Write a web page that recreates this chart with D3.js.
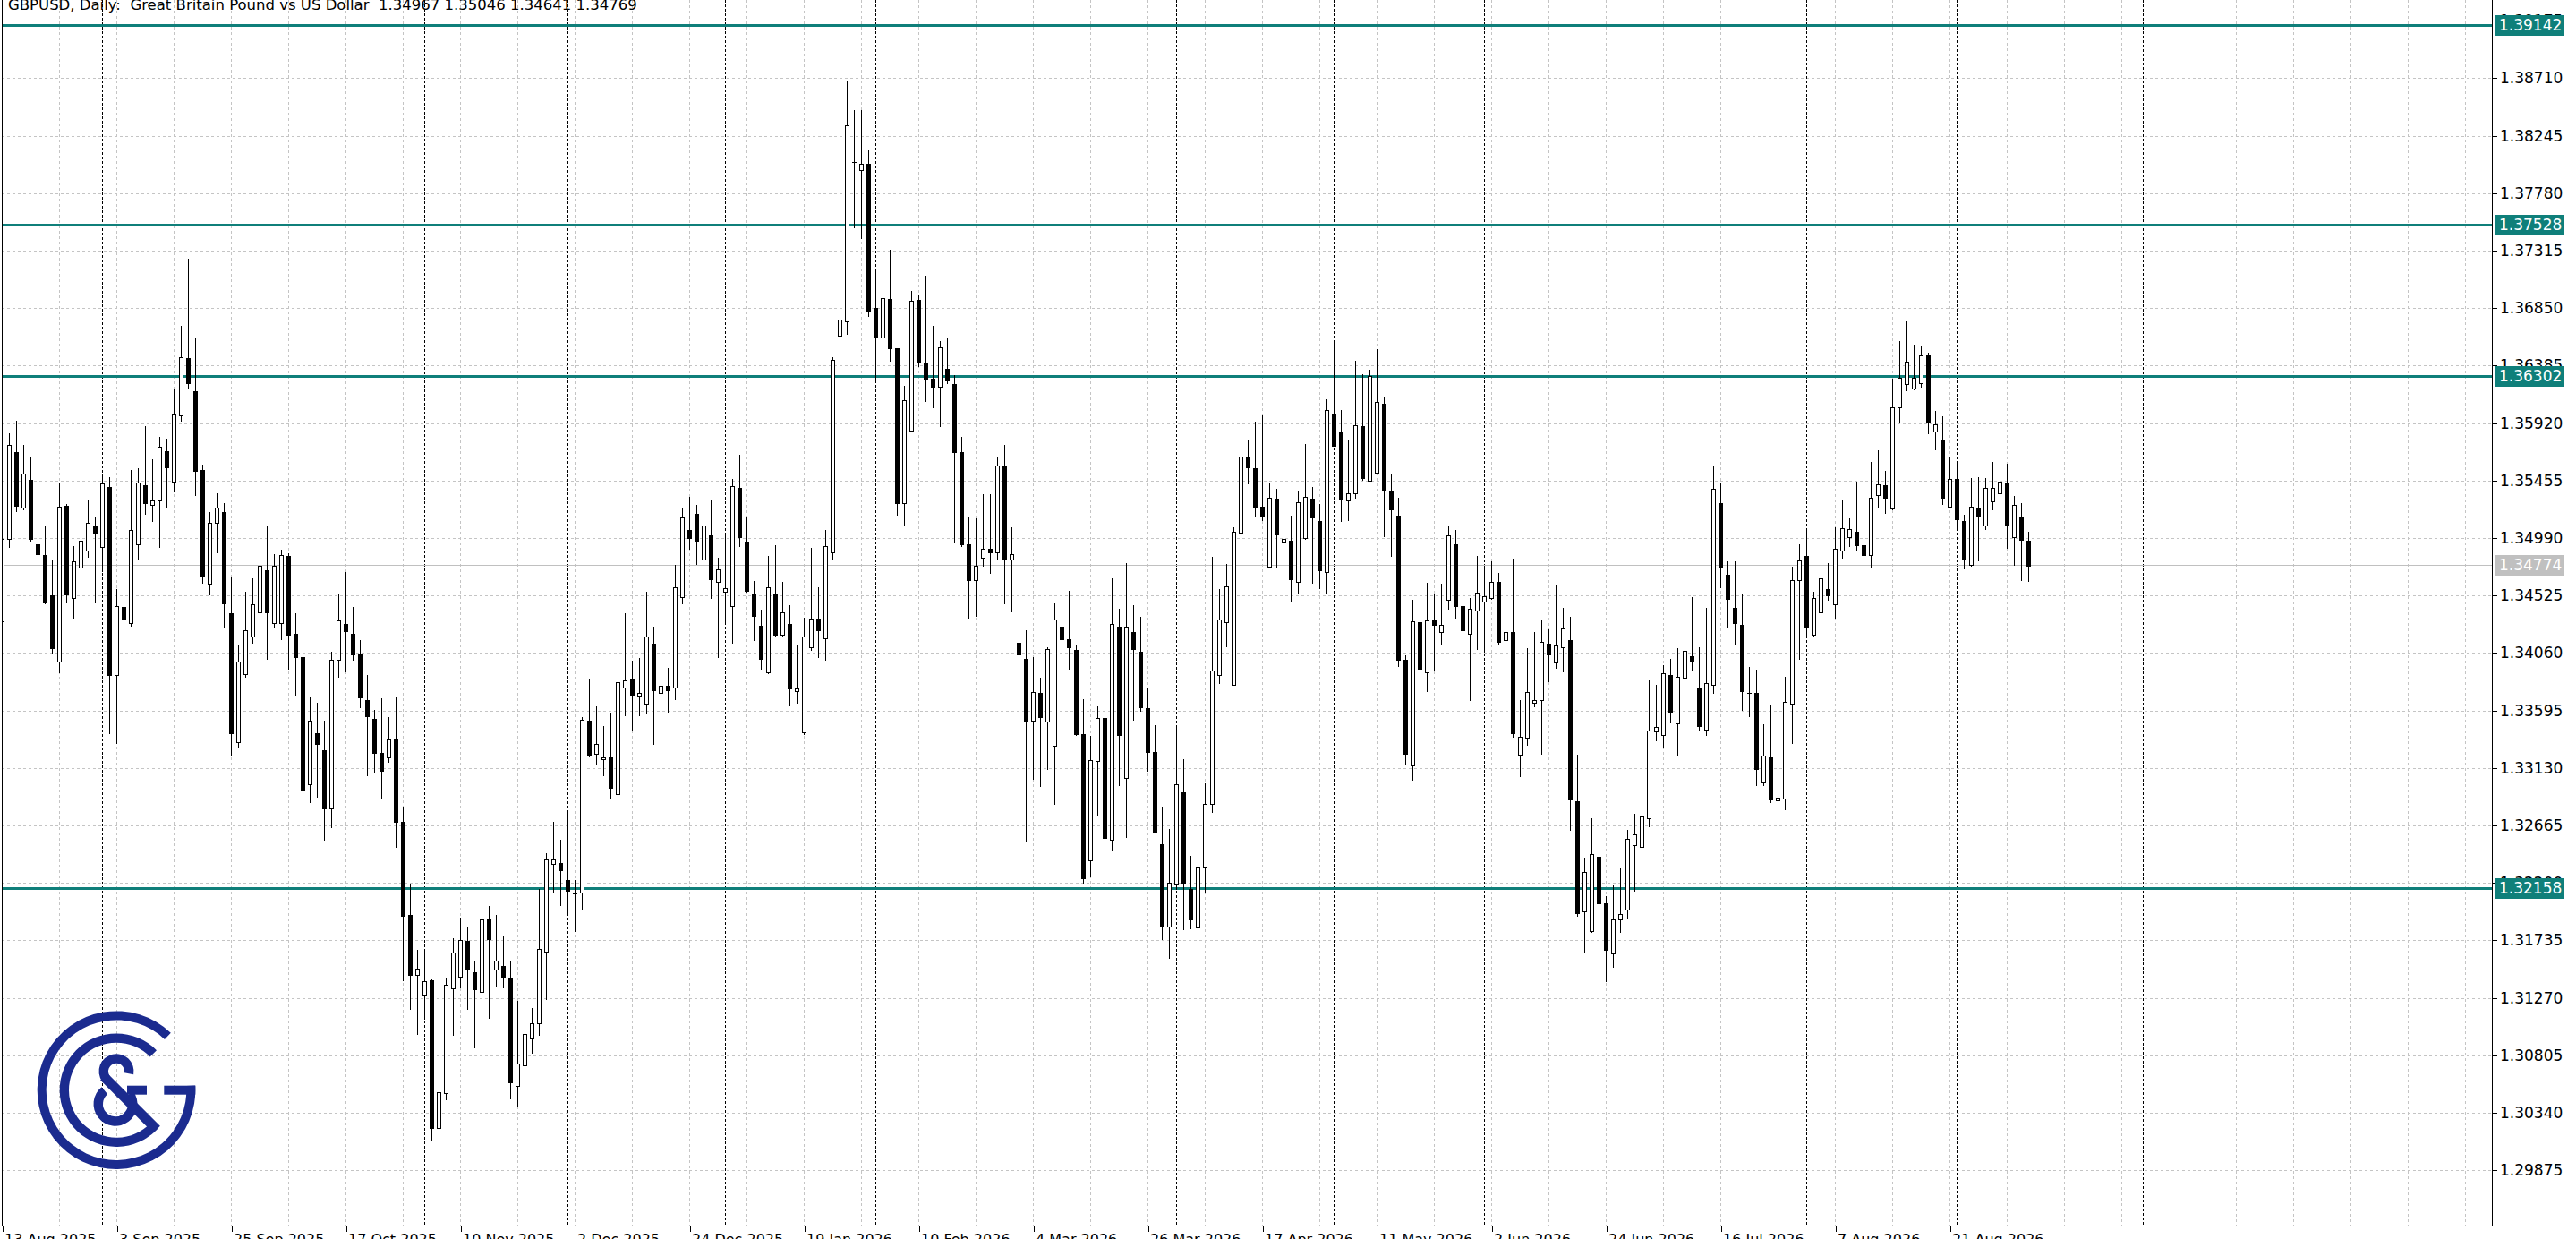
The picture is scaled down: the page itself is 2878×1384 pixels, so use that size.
<!DOCTYPE html>
<html><head><meta charset="utf-8">
<script src="https://cdn.jsdelivr.net/npm/d3@7"></script>
<style>html,body{margin:0;padding:0;background:#fff;overflow:hidden} text{white-space:pre}</style>
</head><body>
<svg id="c" width="2878" height="1384"></svg>
<script>
const titleText = "GBPUSD, Daily:  Great Britain Pound vs US Dollar  1.34967 1.35046 1.34641 1.34769";
const dateLabels = ["13 Aug 2025","3 Sep 2025","25 Sep 2025","17 Oct 2025","10 Nov 2025","2 Dec 2025","24 Dec 2025","19 Jan 2026","10 Feb 2026","4 Mar 2026","26 Mar 2026","17 Apr 2026","11 May 2026","2 Jun 2026","24 Jun 2026","16 Jul 2026","7 Aug 2026","21 Aug 2026"];
const labelEvery = 16;
const priceTicks = [1.29875,1.30340,1.30805,1.31270,1.31735,1.32200,1.32665,1.33130,1.33595,1.34060,1.34525,1.34990,1.35455,1.35920,1.36385,1.36850,1.37315,1.37780,1.38245,1.38710,1.39175];
const levelLines = [1.39142,1.37528,1.36302,1.32158];
const bidPrice = 1.34774;
const monthSeparators = [14,36,59,79,101,122,142,164,186,207,229,252,273,299];
const gridEvery = 8;
const gridMaxBar = 344;

const open = [
1.34313,1.34985,1.35683,1.35235,1.35459,1.34937,1.34853,1.34524,1.33992,1.35248,
1.34503,1.34748,1.34887,1.35090,1.34919,1.35401,1.33879,1.34432,1.34300,1.34937,
1.35414,1.35256,1.35293,1.35690,1.35446,1.35980,1.36446,1.36175,1.35538,1.34621,
1.35116,1.35201,1.34384,1.33339,1.33887,1.34190,1.34392,1.34729,1.34300,1.34305,
1.34848,1.34216,1.34024,1.33000,1.33410,1.33273,1.32800,1.34005,1.34295,1.34216,
1.34051,1.33676,1.33530,1.33249,1.33213,1.33358,1.32691,1.31943,1.31455,1.31287,
1.31415,1.30215,1.30496,1.31345,1.31444,1.31728,1.31480,1.31316,1.31907,1.31498,
1.31528,1.31426,1.30558,1.30725,1.30944,1.31061,1.31644,1.32356,1.32363,1.32221,
1.32119,1.32119,1.33515,1.33242,1.33202,1.33213,1.32921,1.33778,1.33844,1.33705,
1.33650,1.34135,1.33734,1.33792,1.33778,1.34510,1.35057,1.35189,1.34815,1.35012,
1.34634,1.34555,1.34441,1.35397,1.34964,1.34544,1.34278,1.33903,1.34537,1.34208,
1.34295,1.33751,1.33418,1.34104,1.34337,1.34181,1.34874,1.36626,1.36744,1.38030,
1.37967,1.38019,1.36848,1.36609,1.36921,1.36523,1.35272,1.35861,1.36917,1.36408,
1.36277,1.36211,1.36356,1.36235,1.35688,1.34936,1.34648,1.34832,1.34901,1.34874,
1.35577,1.34815,1.34139,1.34013,1.33515,1.33734,1.33505,1.33308,1.34275,1.34170,
1.34082,1.33406,1.32383,1.33187,1.33531,1.32547,1.34275,1.33046,1.34230,1.34072,
1.33613,1.33259,1.32514,1.31848,1.32186,1.32934,1.32154,1.31842,1.32327,1.32842,
1.33885,1.34308,1.33800,1.35033,1.35646,1.35558,1.35246,1.34761,1.35312,1.34958,
1.34967,1.34636,1.34990,1.35312,1.35131,1.34712,1.35997,1.35850,1.35295,1.35351,
1.35892,1.35456,1.35522,1.36073,1.35372,1.35172,1.34005,1.33149,1.34310,1.33903,
1.34327,1.34227,1.34493,1.34937,1.34438,1.34216,1.34402,1.34477,1.34504,1.34632,
1.34161,1.34227,1.33238,1.33376,1.33659,1.33676,1.34133,1.33980,1.34105,1.34166,
1.32863,1.31968,1.31810,1.32414,1.32032,1.31630,1.31907,1.31985,1.32503,1.32489,
1.32725,1.33423,1.33398,1.33881,1.33493,1.33861,1.34033,1.33778,1.33440,1.33800,
1.35269,1.34693,1.34424,1.34291,1.33737,1.33737,1.33016,1.33215,1.32869,1.32881,
1.33652,1.34649,1.34845,1.34207,1.34389,1.34577,1.34451,1.34890,1.34998,1.35038,
1.34931,1.34850,1.35335,1.35415,1.35228,1.36045,1.36233,1.36198,1.36246,1.36466,
1.35850,1.35788,1.35247,1.35466,1.35126,1.34770,1.35228,1.35091,1.35287,1.35354,
1.35434,1.34998,1.35161,1.34967];
const high = [
1.35024,1.35846,1.35946,1.35748,1.35648,1.35309,1.35090,1.34827,1.35440,1.35274,
1.34932,1.35019,1.35309,1.35169,1.35509,1.35490,1.34585,1.34595,1.35551,1.35564,
1.35906,1.35635,1.35819,1.35801,1.36196,1.36715,1.37257,1.36609,1.35590,1.35209,
1.35361,1.35282,1.34677,1.34129,1.34564,1.34674,1.35296,1.35098,1.34866,1.34906,
1.34872,1.34387,1.34195,1.33708,1.33663,1.33523,1.34076,1.34545,1.34722,1.34437,
1.34172,1.33887,1.33603,1.33698,1.33548,1.33705,1.32819,1.32199,1.31663,1.31655,
1.31426,1.30561,1.31433,1.31761,1.31929,1.31856,1.31571,1.32173,1.32020,1.31947,
1.31783,1.31571,1.31251,1.31116,1.31196,1.32155,1.32447,1.32702,1.32556,1.32782,
1.32228,1.33552,1.33862,1.33632,1.33475,1.33577,1.33895,1.34391,1.34008,1.34026,
1.34562,1.34281,1.34471,1.33949,1.34781,1.35237,1.35334,1.35265,1.35161,1.35307,
1.34839,1.35029,1.35473,1.35670,1.35161,1.34648,1.34416,1.34849,1.34936,1.34641,
1.34451,1.34129,1.34354,1.34919,1.34596,1.35064,1.36460,1.37129,1.38695,1.38463,
1.38463,1.38140,1.37160,1.37066,1.37326,1.36530,1.36225,1.36997,1.36963,1.37118,
1.36713,1.36588,1.36609,1.36315,1.35819,1.35161,1.35154,1.35352,1.35352,1.35656,
1.35750,1.35085,1.34555,1.34252,1.34033,1.33869,1.34111,1.34466,1.34826,1.34571,
1.34131,1.33695,1.33393,1.33639,1.33744,1.34672,1.34426,1.34794,1.34456,1.34361,
1.33783,1.33482,1.32826,1.32645,1.33465,1.33210,1.32426,1.32688,1.33016,1.34843,
1.34587,1.34787,1.35082,1.35892,1.35784,1.35942,1.35991,1.35440,1.35394,1.35351,
1.35177,1.35374,1.35761,1.35410,1.35276,1.36122,1.36597,1.36030,1.35784,1.36433,
1.36325,1.36361,1.36525,1.36138,1.35510,1.35322,1.34047,1.34499,1.34374,1.34632,
1.34549,1.34629,1.35095,1.35059,1.34590,1.34513,1.34851,1.34762,1.34812,1.34715,
1.34624,1.34831,1.33687,1.34105,1.34235,1.34338,1.34258,1.34610,1.34430,1.34360,
1.33246,1.32412,1.32733,1.32550,1.32101,1.32190,1.32323,1.32633,1.32766,1.32947,
1.33847,1.33811,1.33972,1.34019,1.34105,1.34310,1.34521,1.34116,1.34435,1.35574,
1.35449,1.34809,1.34809,1.34549,1.33953,1.33931,1.33493,1.33640,1.33118,1.33875,
1.34764,1.34946,1.35078,1.34564,1.34858,1.34791,1.35086,1.35300,1.35158,1.35453,
1.35126,1.35614,1.35710,1.35541,1.36286,1.36592,1.36747,1.36560,1.36546,1.36498,
1.36024,1.35983,1.35649,1.35595,1.35185,1.35482,1.35488,1.35482,1.35614,1.35675,
1.35595,1.35340,1.35279,1.35046];
const low = [
1.34287,1.34914,1.35209,1.35222,1.34970,1.34774,1.34458,1.34058,1.33905,1.34466,
1.34348,1.34169,1.34840,1.34466,1.34721,1.33410,1.33331,1.34169,1.34282,1.34827,
1.35182,1.35130,1.34914,1.35240,1.35367,1.35941,1.36196,1.35340,1.34629,1.34532,
1.34872,1.34269,1.33239,1.33294,1.33866,1.34142,1.34340,1.34011,1.34269,1.34169,
1.33932,1.33713,1.32800,1.32850,1.32900,1.32550,1.32650,1.33866,1.33913,1.34003,
1.33621,1.33067,1.33096,1.32884,1.33176,1.32491,1.31415,1.31178,1.30981,1.31097,
1.30124,1.30124,1.30452,1.30970,1.31353,1.31178,1.30868,1.31024,1.31105,1.31371,
1.31353,1.30459,1.30397,1.30404,1.30824,1.30970,1.31261,1.32119,1.32020,1.31965,
1.31808,1.31991,1.33220,1.33165,1.33067,1.32892,1.32903,1.33559,1.33439,1.33559,
1.33570,1.33321,1.33424,1.33585,1.33687,1.34458,1.34901,1.34780,1.34704,1.34503,
1.34028,1.34319,1.34146,1.34926,1.34555,1.34163,1.33931,1.33897,1.34198,1.34191,
1.33637,1.33654,1.33401,1.34087,1.34025,1.34007,1.34825,1.36432,1.36640,1.37500,
1.37420,1.36789,1.36270,1.36495,1.36426,1.35178,1.35092,1.35854,1.36381,1.36096,
1.36044,1.35895,1.36245,1.34953,1.34926,1.34347,1.34357,1.34763,1.34704,1.34815,
1.34458,1.34399,1.33055,1.32537,1.33039,1.32983,1.33121,1.32836,1.34131,1.33934,
1.33393,1.32193,1.32252,1.32744,1.32531,1.32465,1.32990,1.32570,1.33521,1.33590,
1.33105,1.32606,1.31743,1.31596,1.32154,1.31825,1.31832,1.31766,1.32121,1.32777,
1.33816,1.34111,1.33800,1.34915,1.35433,1.35164,1.35138,1.34754,1.34751,1.34925,
1.34482,1.34538,1.34984,1.34630,1.34587,1.34548,1.35738,1.35128,1.35138,1.35318,
1.35459,1.35450,1.35515,1.35007,1.34845,1.33953,1.33160,1.33035,1.33786,1.33750,
1.33917,1.34138,1.34421,1.34346,1.34166,1.33681,1.34089,1.34069,1.34499,1.34130,
1.34097,1.33382,1.33066,1.33315,1.33631,1.33246,1.33834,1.33939,1.33908,1.32628,
1.31935,1.31644,1.31805,1.31830,1.31408,1.31519,1.31802,1.31921,1.32135,1.32184,
1.32656,1.33354,1.33293,1.33495,1.33229,1.33798,1.33922,1.33432,1.33398,1.33737,
1.34590,1.34263,1.34125,1.33598,1.33551,1.32994,1.32994,1.32850,1.32739,1.32795,
1.33331,1.34009,1.34188,1.34202,1.34384,1.34488,1.34344,1.34831,1.34925,1.34885,
1.34746,1.34756,1.35247,1.35193,1.35225,1.35930,1.36184,1.36190,1.36217,1.35836,
1.35710,1.35265,1.35241,1.35059,1.34746,1.34764,1.34810,1.35059,1.35220,1.35300,
1.34912,1.34770,1.34649,1.34641];
const close = [
1.34985,1.35740,1.35253,1.35509,1.34985,1.34858,1.34466,1.34098,1.35240,1.34537,
1.34800,1.34966,1.35116,1.35024,1.35430,1.33884,1.34437,1.34332,1.35056,1.35438,
1.35272,1.35293,1.35727,1.35564,1.35988,1.36454,1.36241,1.35535,1.34687,1.35116,
1.35235,1.34458,1.33410,1.33989,1.34245,1.34453,1.34766,1.34392,1.34766,1.34853,
1.34208,1.34024,1.32950,1.33510,1.33321,1.32800,1.34005,1.34321,1.34234,1.34045,
1.33698,1.33548,1.33249,1.33110,1.33358,1.32691,1.31936,1.31455,1.31509,1.31407,
1.30215,1.30507,1.31378,1.31637,1.31735,1.31506,1.31342,1.31907,1.31746,1.31571,
1.31444,1.30587,1.30740,1.30977,1.31061,1.31663,1.32392,1.32392,1.32301,1.32137,
1.32111,1.33523,1.33238,1.33322,1.33216,1.32968,1.33825,1.33840,1.33723,1.33734,
1.34190,1.33760,1.33796,1.33760,1.34595,1.35154,1.34988,1.34971,1.35092,1.34659,
1.34735,1.34582,1.35411,1.34995,1.34562,1.34357,1.34011,1.34589,1.34208,1.34388,
1.33775,1.33775,1.34191,1.34337,1.34243,1.34925,1.36432,1.36755,1.38331,1.38030,
1.38019,1.36831,1.36616,1.36928,1.36523,1.35272,1.36103,1.36911,1.36415,1.36277,
1.36211,1.36536,1.36263,1.35688,1.34936,1.34648,1.34763,1.34901,1.34874,1.35577,
1.34815,1.34860,1.34046,1.33508,1.33744,1.33541,1.34095,1.34328,1.34170,1.34105,
1.33406,1.32235,1.33193,1.33537,1.32563,1.34295,1.33400,1.34275,1.34089,1.33619,
1.33262,1.32606,1.31848,1.32203,1.32996,1.32203,1.31901,1.32327,1.32842,1.33915,
1.34328,1.34597,1.35040,1.35646,1.35564,1.35246,1.35164,1.35318,1.35017,1.34984,
1.34656,1.35279,1.35325,1.35154,1.34728,1.36023,1.35738,1.35302,1.35351,1.35902,
1.35473,1.36302,1.36089,1.35384,1.35219,1.34008,1.33243,1.34313,1.33936,1.34327,
1.34285,1.34285,1.35012,1.34443,1.34244,1.34421,1.34546,1.34518,1.34637,1.34152,
1.34227,1.33410,1.33385,1.33742,1.33676,1.34152,1.34047,1.34119,1.34255,1.32877,
1.31954,1.32290,1.32434,1.32032,1.31658,1.31907,1.31949,1.32559,1.32595,1.32739,
1.33432,1.33465,1.33895,1.33584,1.33870,1.34077,1.33994,1.33468,1.33820,1.35386,
1.34757,1.34499,1.34305,1.33750,1.33737,1.33121,1.33232,1.32872,1.32886,1.33666,
1.34649,1.34810,1.34263,1.34502,1.34663,1.34523,1.34906,1.35067,1.35059,1.34931,
1.34850,1.35314,1.35426,1.35319,1.36050,1.36286,1.36420,1.36286,1.36466,1.35922,
1.35908,1.35319,1.35466,1.35145,1.34823,1.35241,1.35161,1.35394,1.35394,1.35448,
1.35094,1.35260,1.34979,1.34769];

// ---------- layout ----------
const plot = {left: 2, right: 2784, top: 0, bottom: 1369};
const FONT = "'DejaVu Sans', Verdana, sans-serif";
const teal = "#0f7f7a";
const gridColor = "#c4c4c4";

const svg = d3.select("#c");
svg.append("rect").attr("width", 2878).attr("height", 1384).attr("fill", "#fff");

const x = d3.scaleLinear().domain([0, 1]).range([2.5, 10.5]);
const y = d3.scaleLinear().domain([1.34060, 1.38710]).range([729.4, 87.4]);
const cy = v => Math.round(y(v)) + 0.5;

svg.append("defs").append("clipPath").attr("id", "plotclip")
  .append("rect").attr("x", plot.left).attr("y", plot.top)
  .attr("width", plot.right - plot.left).attr("height", plot.bottom - plot.top);

const pg = svg.append("g").attr("clip-path", "url(#plotclip)");

// horizontal grid
pg.append("g").selectAll("line").data(priceTicks).join("line")
  .attr("x1", plot.left).attr("x2", plot.right)
  .attr("y1", d => cy(d)).attr("y2", d => cy(d))
  .attr("stroke", gridColor).attr("stroke-width", 1).attr("stroke-dasharray", "3,3")
  .attr("shape-rendering", "crispEdges");

// vertical grid
const vgrid = d3.range(gridEvery, gridMaxBar + 1, gridEvery).filter(k => !monthSeparators.includes(k));
pg.append("g").selectAll("line").data(vgrid).join("line")
  .attr("x1", d => x(d)).attr("x2", d => x(d))
  .attr("y1", plot.top).attr("y2", plot.bottom)
  .attr("stroke", gridColor).attr("stroke-width", 1).attr("stroke-dasharray", "3,3")
  .attr("shape-rendering", "crispEdges");

// month separators
pg.append("g").selectAll("line").data(monthSeparators).join("line")
  .attr("x1", d => x(d)).attr("x2", d => x(d))
  .attr("y1", plot.top).attr("y2", plot.bottom)
  .attr("stroke", "#000").attr("stroke-width", 1).attr("stroke-dasharray", "3,2")
  .attr("shape-rendering", "crispEdges");

// bid line
pg.append("line").attr("x1", plot.left).attr("x2", plot.right)
  .attr("y1", cy(bidPrice)).attr("y2", cy(bidPrice))
  .attr("stroke", "#c0c0c0").attr("stroke-width", 1).attr("shape-rendering", "crispEdges");

// level lines
pg.append("g").selectAll("line").data(levelLines).join("line")
  .attr("x1", plot.left).attr("x2", plot.right)
  .attr("y1", d => Math.round(y(d)) + 0.5).attr("y2", d => Math.round(y(d)) + 0.5)
  .attr("stroke", teal).attr("stroke-width", 3).attr("shape-rendering", "crispEdges");

// candles
const bars = d3.range(open.length).map(i => ({i, o: open[i], h: high[i], l: low[i], c: close[i]}));
const cg = pg.append("g").attr("shape-rendering", "crispEdges");
cg.selectAll("line.wick").data(bars).join("line").attr("class", "wick")
  .attr("x1", d => x(d.i)).attr("x2", d => x(d.i))
  .attr("y1", d => cy(d.h)).attr("y2", d => cy(d.l))
  .attr("stroke", "#000").attr("stroke-width", 1);
cg.selectAll("rect.body").data(bars.filter(d => Math.abs(cy(d.o) - cy(d.c)) >= 1)).join("rect").attr("class", "body")
  .attr("x", d => x(d.i) - 2).attr("width", 4)
  .attr("y", d => Math.min(cy(d.o), cy(d.c)))
  .attr("height", d => Math.abs(cy(d.o) - cy(d.c)))
  .attr("fill", d => d.c >= d.o ? "#fff" : "#000")
  .attr("stroke", "#000").attr("stroke-width", 1);
cg.selectAll("line.doji").data(bars.filter(d => Math.abs(cy(d.o) - cy(d.c)) < 1)).join("line").attr("class", "doji")
  .attr("x1", d => x(d.i) - 2.5).attr("x2", d => x(d.i) + 2.5)
  .attr("y1", d => cy(d.o)).attr("y2", d => cy(d.o))
  .attr("stroke", "#000").attr("stroke-width", 1);

// logo
const logoColor = "#1b2b8f";
const logo = svg.append("g").attr("transform", "translate(130,1217.7)").attr("fill", logoColor);
const arc = d3.arc();
logo.append("path").attr("d", arc({innerRadius: 78.3, outerRadius: 88.3, startAngle: Math.PI / 2 - 0.06, endAngle: 2 * Math.PI + 0.76}));
logo.append("path").attr("d", arc({innerRadius: 53, outerRadius: 63.3, startAngle: 2.33, endAngle: 2 * Math.PI + 0.79}));
logo.append("rect").attr("x", 53.3).attr("y", -5).attr("width", 35).attr("height", 10);
// ampersand
logo.append("path").attr("transform", "translate(0,-21)")
  .attr("d", arc({innerRadius: 9, outerRadius: 19.5, startAngle: -2.2, endAngle: 1.75}));
logo.append("path").attr("transform", "translate(-1,15.5)")
  .attr("d", arc({innerRadius: 14, outerRadius: 24.5, startAngle: 0.95, endAngle: 5.6}));
logo.append("rect").attr("x", 12).attr("y", -5).attr("width", 22).attr("height", 10);
logo.append("line").attr("x1", -14).attr("y1", -15).attr("x2", 45).attr("y2", 44)
  .attr("stroke", logoColor).attr("stroke-width", 11);

// borders
const border = svg.append("g").attr("stroke", "#000").attr("shape-rendering", "crispEdges");
border.append("line").attr("x1", 2.5).attr("x2", 2.5).attr("y1", 0).attr("y2", plot.bottom + 0.5);
border.append("line").attr("x1", plot.right + 0.5).attr("x2", plot.right + 0.5).attr("y1", 0).attr("y2", plot.bottom + 0.5);
border.append("line").attr("x1", 2).attr("x2", plot.right + 1).attr("y1", plot.bottom + 0.5).attr("y2", plot.bottom + 0.5).attr("stroke-width", 1);

// price axis
const yAxis = d3.axisRight(y).tickValues(priceTicks).tickFormat(d3.format(".5f")).tickSize(5).tickPadding(3);
const ya = svg.append("g").attr("transform", `translate(${plot.right + 1},0)`).call(yAxis);
ya.select(".domain").remove();
ya.selectAll(".tick").attr("transform", d => `translate(0,${cy(d)})`);
ya.selectAll(".tick line").attr("stroke", "#000").attr("shape-rendering", "crispEdges");
ya.selectAll(".tick text").attr("font-family", FONT).attr("font-size", 17).attr("fill", "#000");

// date axis
const xAxis = d3.axisBottom(x).tickValues(d3.range(0, dateLabels.length * labelEvery, labelEvery))
  .tickFormat(d => dateLabels[d / labelEvery]).tickSize(6).tickPadding(3);
const xa = svg.append("g").attr("transform", `translate(0,${plot.bottom + 1})`).call(xAxis);
xa.select(".domain").remove();
xa.selectAll(".tick line").attr("stroke", "#000").attr("shape-rendering", "crispEdges");
xa.selectAll(".tick text").attr("font-family", FONT).attr("font-size", 16).attr("fill", "#000")
  .attr("text-anchor", "start").attr("x", 2);

// value boxes
const boxes = levelLines.map(v => ({v, fill: teal})).concat([{v: bidPrice, fill: "#c0c0c0"}]);
const bg = svg.append("g");
bg.selectAll("rect").data(boxes).join("rect")
  .attr("x", plot.right + 3).attr("y", d => Math.round(y(d.v)) - 11).attr("width", 78).attr("height", 23)
  .attr("fill", d => d.fill);
bg.selectAll("text").data(boxes).join("text")
  .attr("x", plot.right + 8).attr("y", d => Math.round(y(d.v)) + 0.5).attr("dy", "0.35em")
  .attr("font-family", FONT).attr("font-size", 17).attr("fill", "#fff")
  .text(d => d3.format(".5f")(d.v));

// title
svg.append("text").attr("x", 9).attr("y", 11).attr("font-family", FONT).attr("font-size", 16.5)
  .attr("xml:space", "preserve").style("white-space", "pre")
  .attr("fill", "#000").text(titleText);
</script>
</body></html>
